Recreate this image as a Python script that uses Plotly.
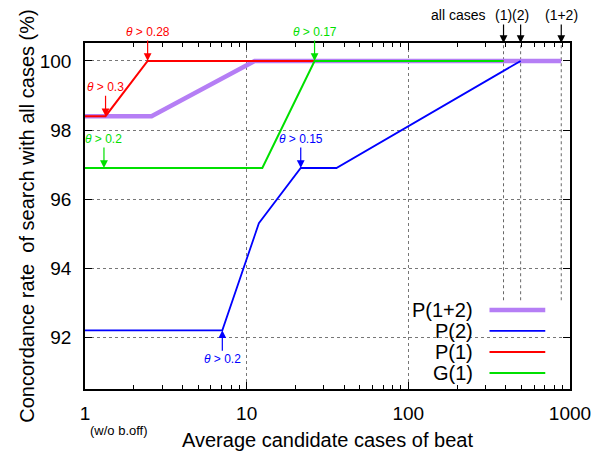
import numpy as np
import plotly.graph_objects as go

# ---- data ----
x_p12 = [1, 2.58, 11.2, 883]
y_p12 = [98.4, 98.4, 100, 100]
x_p2 = [1, 7.07, 11.9, 21.6, 35.9, 495]
y_p2 = [92.2, 92.2, 95.3, 96.9, 96.9, 100]
x_p1 = [1, 1.34, 2.44, 388]
y_p1 = [98.4, 98.4, 100, 100]
x_g1 = [1, 12.5, 26.3, 388]
y_g1 = [96.9, 96.9, 100, 100]

series_names = ["P(1+2)", "P(2)", "P(1)", "G(1)"]
series_colors = ["#b57ef5", "#0000ff", "#ff0000", "#00e000"]
series_widths = [4.5, 1.8, 2, 2]

# threshold annotations: (label, x, y, color, offset direction)
th_labels = ["θ > 0.28", "θ > 0.3", "θ > 0.2", "θ > 0.17", "θ > 0.15", "θ > 0.2"]
th_x = [2.44, 1.34, 1.31, 26.3, 21.6, 7.07]
th_y = [100, 98.4, 96.9, 100, 96.9, 92.2]
th_col = ["#ff0000", "#ff0000", "#00e000", "#00e000", "#0000ff", "#0000ff"]
th_dir = [-1, -1, -1, -1, -1, 1]

# all-cases markers
all_x = [388, 495, 883]
all_lab = ["(1)", "(2)", "(1+2)"]

x_ticks = [1, 10, 100, 1000]
y_ticks = [92, 94, 96, 98, 100]

FONT = "Liberation Sans, Arial, Helvetica, sans-serif"

fig = go.Figure()
traces = [(x_p12, y_p12), (x_p2, y_p2), (x_p1, y_p1), (x_g1, y_g1)]
for (xs, ys), n, c, w in zip(traces, series_names, series_colors, series_widths):
    fig.add_trace(go.Scatter(x=xs, y=ys, mode="lines", name=n,
                             line=dict(color=c, width=w), showlegend=False))

shapes = []
# vertical dotted lines at all-cases positions (down to legend top)
for xv in all_x:
    shapes.append(dict(type="line", xref="x", yref="y", x0=xv, x1=xv, y0=93.07, y1=100.52,
                       line=dict(color="#666", width=1, dash="dot"), layer="between"))
# legend box (white, hides gridlines)
shapes.append(dict(type="rect", xref="paper", yref="paper", x0=0.652, x1=0.974, y0=0.004, y1=0.257,
                   fillcolor="white", line=dict(width=0), layer="between"))
leg_y = [0.228, 0.168, 0.107, 0.046]
for n, c, w, yy in zip(series_names, series_colors, series_widths, leg_y):
    shapes.append(dict(type="line", xref="paper", yref="paper", x0=0.834, x1=0.949, y0=yy, y1=yy,
                       line=dict(color=c, width=w)))

ann = []
for n, yy in zip(series_names, leg_y):
    ann.append(dict(xref="paper", yref="paper", x=0.805, y=yy, text=n, showarrow=False,
                    xanchor="right", yanchor="middle", font=dict(size=20, color="black", family=FONT)))
for t, xv, yv, c, d in zip(th_labels, th_x, th_y, th_col, th_dir):
    ann.append(dict(xref="x", yref="y", x=np.log10(xv), y=yv, text=t.replace("θ", "<i>θ</i>"),
                    showarrow=True, ax=0, ay=29 * d, arrowhead=2, arrowsize=1.3, arrowwidth=1.2,
                    arrowcolor=c, font=dict(size=12, color=c, family=FONT)))
for xv, lab in zip(all_x, all_lab):
    ann.append(dict(xref="x", yref="paper", x=np.log10(xv), y=1, text=lab, showarrow=True,
                    ax=0, ay=-28, arrowhead=2, arrowsize=1.3, arrowwidth=1.2, arrowcolor="black",
                    font=dict(size=14, color="black", family=FONT)))
ann.append(dict(xref="x", yref="paper", x=np.log10(202), y=1, yshift=28, text="all cases",
                showarrow=False, yanchor="middle", font=dict(size=14, color="black", family=FONT)))
ann.append(dict(xref="paper", yref="paper", x=0.0056, y=-0.121, text="(w/o b.off)", showarrow=False,
                yanchor="middle", font=dict(size=13, color="black", family=FONT)))
ann.append(dict(xref="paper", yref="paper", x=0.5, y=-0.147, text="Average candidate cases of beat",
                showarrow=False, yanchor="middle", font=dict(size=20, color="black", family=FONT)))
ann.append(dict(xref="paper", yref="paper", x=-0.120, y=0.5,
                text="Concordance rate  of search with all cases (%)", textangle=-90,
                showarrow=False, xanchor="center", yanchor="middle",
                font=dict(size=20, color="black", family=FONT)))

axis_common = dict(showline=True, linecolor="black", linewidth=1.5, mirror="ticks",
                   ticks="inside", ticklen=7, tickcolor="black", tickwidth=1,
                   showgrid=True, gridcolor="#777", griddash="dot", gridwidth=1,
                   zeroline=False, tickfont=dict(size=19, color="black", family=FONT))

fig.update_layout(
    width=605, height=454, margin=dict(l=85, r=35, t=43, b=65),
    plot_bgcolor="white", paper_bgcolor="white",
    xaxis=dict(type="log", range=[0, 3], tickvals=x_ticks, ticktext=[str(v) for v in x_ticks],
               minor=dict(ticks="inside", ticklen=4, dtick="D1", showgrid=False, tickcolor="black"),
               ticklabelstandoff=6, **axis_common),
    yaxis=dict(range=[90.5, 100.52], tickvals=y_ticks, ticktext=[str(v) for v in y_ticks],
               ticklabelstandoff=8, **axis_common),
    shapes=shapes, annotations=ann, showlegend=False,
)
fig.write_html("out.html")
